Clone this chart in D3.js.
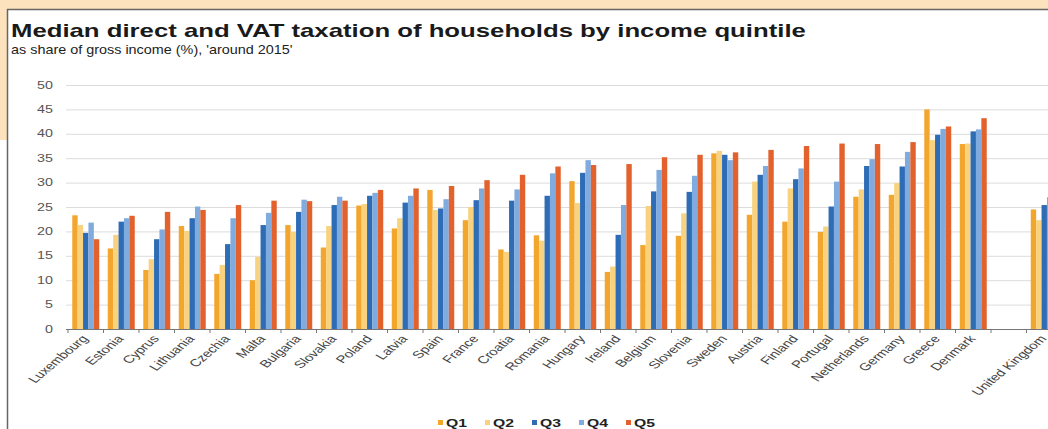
<!DOCTYPE html>
<html>
<head>
<meta charset="utf-8">
<script src="https://cdn.jsdelivr.net/npm/d3@7"></script>
<style>
  html, body { margin: 0; padding: 0; background: #ffffff; }
  svg { display: block; font-family: "Liberation Sans", Arial, sans-serif; }
</style>
</head>
<body>
<svg id="chart" width="1048" height="429"></svg>
<script>
const categories = ["Luxembourg","Estonia","Cyprus","Lithuania","Czechia","Malta","Bulgaria","Slovakia","Poland","Latvia","Spain","France","Croatia","Romania","Hungary","Ireland","Belgium","Slovenia","Sweden","Austria","Finland","Portugal","Netherlands","Germany","Greece","Denmark","","United Kingdom"];
const seriesNames = ["Q1","Q2","Q3","Q4","Q5"];
const q1 = [23.3,16.5,12.1,21.1,11.3,10.0,21.3,16.7,25.3,20.6,28.5,22.3,16.3,19.2,30.3,11.7,17.2,19.1,36.0,23.4,22.0,19.9,27.1,27.5,45.0,37.9,null,24.5];
const q2 = [21.3,19.3,14.3,20.1,13.1,14.8,19.9,21.1,25.6,22.7,24.4,25.0,15.8,18.1,25.8,12.8,25.2,23.7,36.5,30.2,28.8,21.0,28.6,29.9,38.7,38.0,null,22.3];
const q3 = [19.7,22.0,18.4,22.7,17.4,21.3,24.0,25.4,27.3,25.9,24.7,26.4,26.3,27.3,32.0,19.3,28.2,28.1,35.7,31.6,30.7,25.1,33.4,33.3,39.8,40.5,null,25.4];
const q4 = [21.8,22.7,20.4,25.1,22.7,23.8,26.5,27.1,27.9,27.3,26.6,28.8,28.6,31.9,34.6,25.4,32.6,31.4,34.6,33.4,32.9,30.2,34.8,36.3,41.0,40.9,null,27.0];
const q5 = [18.4,23.2,24.0,24.4,25.4,26.3,26.2,26.3,28.5,28.8,29.3,30.5,31.6,33.3,33.6,33.8,35.2,35.7,36.2,36.7,37.5,38.0,37.9,38.3,41.5,43.2,null,30.0];
const yTicks = [0,5,10,15,20,25,30,35,40,45,50];
const colors = ["#f3a62e","#f8d27e","#2e6db6","#80abde","#e2612c"];

const svg = d3.select("#chart");
const W = 1048, H = 429;
const SX = 1.43; // horizontal stretch of text in the original image

// frame
svg.append("rect").attr("x",0).attr("y",0).attr("width",W).attr("height",9).attr("fill","#fde3bd");
svg.append("rect").attr("x",0).attr("y",0).attr("width",7).attr("height",140).attr("fill","#fde3bd");
svg.append("line").attr("x1",7).attr("x2",W).attr("y1",9.5).attr("y2",9.5).attr("stroke","#666").attr("stroke-width",1.5);
svg.append("line").attr("x1",7.5).attr("x2",7.5).attr("y1",9).attr("y2",H).attr("stroke","#666").attr("stroke-width",1.5);

// titles
svg.append("text").attr("transform",`translate(11,37) scale(${SX},1)`)
  .attr("font-size",18).attr("font-weight","bold").attr("fill","#1a1a1a")
  .text("Median direct and VAT taxation of households by income quintile");
svg.append("text").attr("transform",`translate(11,54) scale(1.2,1)`)
  .attr("font-size",12).attr("fill","#222")
  .text("as share of gross income (%), 'around 2015'");

const x0 = d3.scaleBand().domain(categories).range([68, 68 + 35.5*categories.length]).paddingInner(0.24).paddingOuter(0.12);
const x1 = d3.scaleBand().domain(seriesNames).range([0, x0.bandwidth()]);
const y = d3.scaleLinear().domain([0,50]).range([329, 85]);

// gridlines
svg.append("g").selectAll("line").data(yTicks.filter(d=>d>0)).join("line")
  .attr("x1",66).attr("x2",W).attr("y1",d=>y(d)+0.5).attr("y2",d=>y(d)+0.5)
  .attr("stroke","#dcdcdc").attr("stroke-width",1);

// y labels
svg.append("g").selectAll("text").data(yTicks).join("text")
  .attr("transform",d=>`translate(53,${y(d)+3.5}) scale(${SX},1)`)
  .attr("text-anchor","end").attr("font-size",10).attr("fill","#555")
  .text(d=>d);

// bars
const seriesData = [q1,q2,q3,q4,q5];
const groups = svg.append("g").selectAll("g").data(categories).join("g")
  .attr("transform",d=>`translate(${x0(d)},0)`);
groups.selectAll("rect").data((c,i)=>seriesNames.map((s,k)=>({s, v: seriesData[k][i], k})).filter(o=>o.v!=null))
  .join("rect")
  .attr("x",o=>x1(o.s)).attr("width",x1.bandwidth())
  .attr("y",o=>y(o.v)).attr("height",o=>y(0)-y(o.v))
  .attr("fill",o=>colors[o.k]);

// x axis line & boundary ticks
const step = x0.step();
const half = x0.paddingInner()*step/2;
svg.append("line").attr("x1",66).attr("x2",W).attr("y1",y(0)+0.5).attr("y2",y(0)+0.5).attr("stroke","#777").attr("stroke-width",1);
const bounds = categories.map(c=>x0(c)-half).concat([x0(categories[categories.length-1])+x0.bandwidth()+half]);
svg.append("g").selectAll("line").data(bounds).join("line")
  .attr("x1",d=>d).attr("x2",d=>d).attr("y1",y(0)).attr("y2",y(0)+4)
  .attr("stroke","#777").attr("stroke-width",1);

// x labels
svg.append("g").selectAll("text").data(categories.filter(c=>c!=="")).join("text")
  .attr("transform",c=>`translate(${x0(c)+x0.bandwidth()/2+3},${y(0)+10}) scale(${SX},1) rotate(-50)`)
  .attr("text-anchor","end").attr("font-size",10.5).attr("fill","#444")
  .text(c=>c);

// legend
const lg = svg.append("g").selectAll("g").data(seriesNames).join("g")
  .attr("transform",(d,i)=>`translate(${438 + i*47},0)`);
lg.append("rect").attr("x",0).attr("y",420).attr("width",5).attr("height",5).attr("fill",(d,i)=>colors[i]);
lg.append("text").attr("transform",`translate(8,427) scale(${SX},1)`).attr("font-size",11).attr("font-weight","bold").attr("fill","#222").text(d=>d);
</script>
</body>
</html>
